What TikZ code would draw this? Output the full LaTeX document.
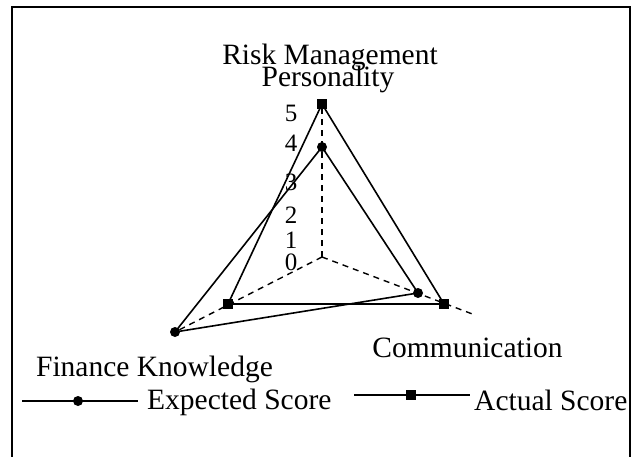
\documentclass[tikz,border=0pt]{standalone}
\usepackage{fontspec}
\setmainfont{Liberation Serif}
\begin{document}
\begin{tikzpicture}[x=1pt,y=-1pt,
  lbl/.style={inner sep=0pt,font=\fontsize{29.5}{30}\selectfont},
  tick/.style={inner sep=0pt,font=\fontsize{25}{26}\selectfont},
  axisline/.style={line width=1.4pt,dash pattern=on 6pt off 5pt},
  series/.style={line width=1.6pt,line join=miter},
  dot/.style={circle,fill=black,inner sep=0pt,minimum size=10pt},
  sq/.style={rectangle,fill=black,inner sep=0pt,minimum size=10pt}]
\useasboundingbox (0,0) rectangle (637,457);
% frame
\draw[line width=1.6pt] (12,457) -- (12,7) -- (630,7) -- (630,457);
% axes
\coordinate (O) at (322,257);
\coordinate (Rend) at (475,315);
\node[dot] (e1) at (322,147) {};
\node[dot] (e2) at (418,293) {};
\node[dot] (e3) at (175,332) {};
\node[sq] (a1) at (322,104) {};
\node[sq] (a2) at (444,304) {};
\node[sq] (a3) at (228,304) {};
\draw[axisline] (O) -- (a1.center);
\draw[axisline] (O) -- (e3.center);
\draw[axisline] (O) -- (Rend);
% series
\draw[series] (e1.center) -- (e2.center) -- (e3.center) -- cycle;
\draw[series] (a1.center) -- (a2.center) -- (a3.center) -- cycle;
% tick labels
\node[tick] (t5) at (291,113) {5};
\node[tick] (t4) at (291,143) {4};
\node[tick] (t3) at (291,182) {3};
\node[tick] (t2) at (291,215) {2};
\node[tick] (t1) at (291,240) {1};
\node[tick] (t0) at (291,262) {0};
% axis labels
\node[lbl,anchor=base] (rm) at (330,65) {Risk Management};
\node[lbl,anchor=base] (pe) at (328,87) {Personality};
\node[lbl,anchor=base] (co) at (467.5,357) {Communication};
\node[lbl,anchor=base] (fk) at (154.5,376) {Finance Knowledge};
% legend
\coordinate (l1a) at (22,401);
\coordinate (l1b) at (138,401);
\draw[series] (l1a) -- (l1b);
\node[dot] (l1m) at (78,401) {};
\node[lbl,anchor=base west] (l1t) at (147,409) {Expected Score};
\coordinate (l2a) at (354,395);
\coordinate (l2b) at (470,395);
\draw[series] (l2a) -- (l2b);
\node[sq] (l2m) at (411,395) {};
\node[lbl,anchor=base west] (l2t) at (474,410) {Actual Score};
\end{tikzpicture}
\end{document}
